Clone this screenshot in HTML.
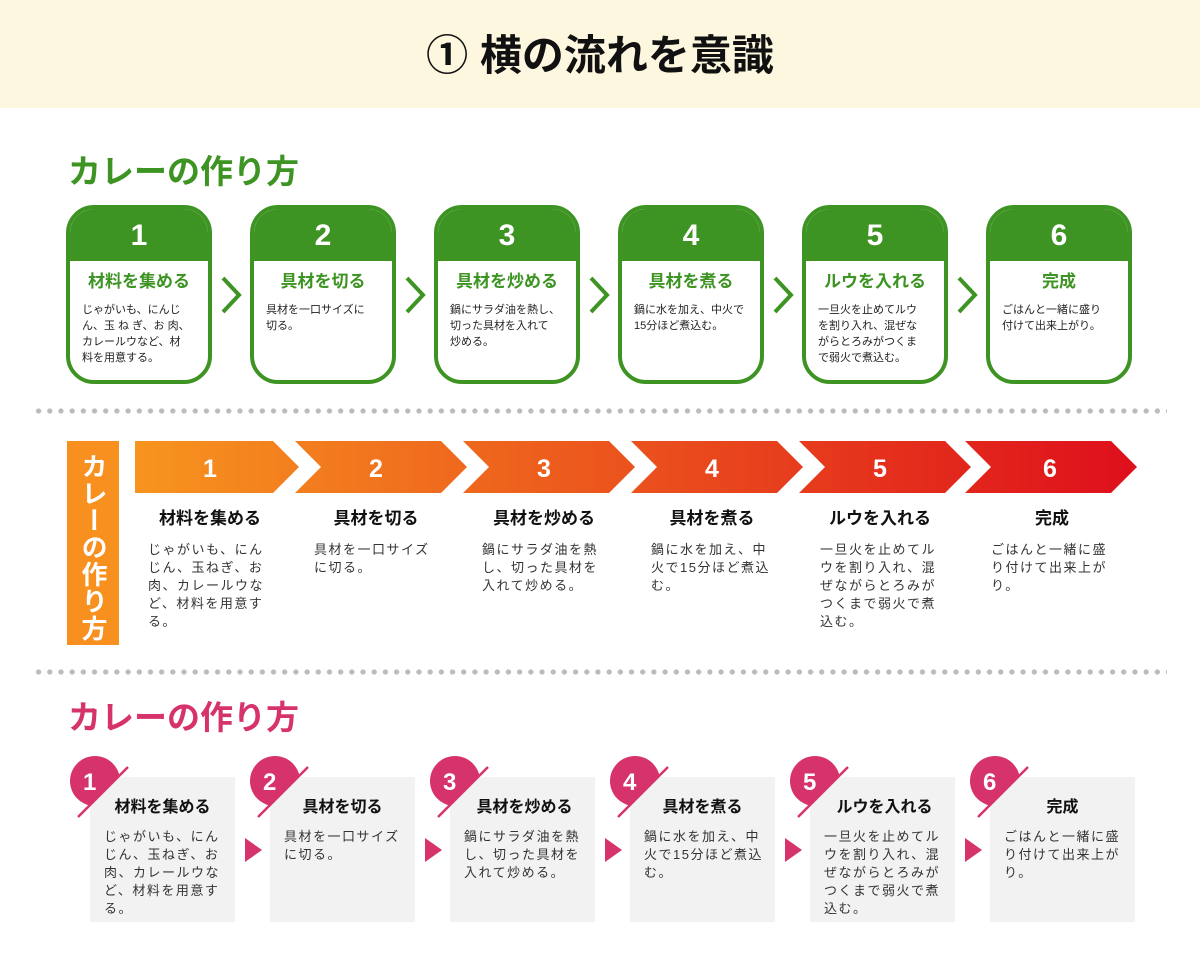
<!DOCTYPE html>
<html><head><meta charset="utf-8"><style>
*{margin:0;padding:0;box-sizing:border-box}
body{width:1200px;height:972px;background:#fff;position:relative;overflow:hidden;font-family:"Liberation Sans","Noto Sans CJK JP",sans-serif;color:#222}
.a{position:absolute}
.hdr{left:0;top:0;width:1200px;height:108px;background:#fdf7df}
.ttl{left:0;width:1200px;top:28px;text-align:center;font-size:42px;font-weight:bold;color:#111;line-height:56px}
.st{font-size:33px;font-weight:bold;line-height:40px}
.card{width:146px;height:179px;border:4px solid #3d9423;border-radius:28px;overflow:hidden;background:#fff}
.card .hd{height:52px;background:#3d9423;color:#fff;font-size:30px;font-weight:bold;text-align:center;line-height:54px}
.card .t{color:#3d9423;font-size:17px;font-weight:bold;text-align:center;margin-top:9px;line-height:24px}
.card .d{font-size:11px;line-height:16px;padding:0 10px 0 12px;margin-top:8px;letter-spacing:0;white-space:nowrap}
.dots{left:33px;width:1134px;height:6px;background:radial-gradient(circle,#bbb 2.4px,transparent 2.8px) 0 0/11.2px 6px repeat-x}
.t2{font-size:17px;font-weight:bold;text-align:center;width:160px;line-height:24px;color:#111}
.d2{font-size:13px;line-height:18px;letter-spacing:1.5px;color:#333;white-space:nowrap}
.box{width:145px;height:145px;background:#f2f2f2}
.t3{font-size:16px;font-weight:bold;text-align:center;width:145px;line-height:22px;color:#111}
.tri{width:0;height:0;border-left:17px solid #d6336c;border-top:12px solid transparent;border-bottom:12px solid transparent}
</style></head><body>
<div class="a hdr"></div>
<div class="a ttl">① 横の流れを意識</div>

<div class="a st" style="left:68px;top:152px;color:#3d9423">カレーの作り方</div>

<div class="a card" style="left:66px;top:205px"><div class="hd">1</div><div class="t">材料を集める</div><div class="d">じゃがいも、にんじ<br>ん、玉 ね ぎ、お 肉、<br>カレールウなど、材<br>料を用意する。</div></div>
<div class="a card" style="left:250px;top:205px"><div class="hd">2</div><div class="t">具材を切る</div><div class="d">具材を一口サイズに<br>切る。</div></div>
<div class="a card" style="left:434px;top:205px"><div class="hd">3</div><div class="t">具材を炒める</div><div class="d">鍋にサラダ油を熱し、<br>切った具材を入れて<br>炒める。</div></div>
<div class="a card" style="left:618px;top:205px"><div class="hd">4</div><div class="t">具材を煮る</div><div class="d">鍋に水を加え、中火で<br>15分ほど煮込む。</div></div>
<div class="a card" style="left:802px;top:205px"><div class="hd">5</div><div class="t">ルウを入れる</div><div class="d">一旦火を止めてルウ<br>を割り入れ、混ぜな<br>がらとろみがつくま<br>で弱火で煮込む。</div></div>
<div class="a card" style="left:986px;top:205px"><div class="hd">6</div><div class="t">完成</div><div class="d">ごはんと一緒に盛り<br>付けて出来上がり。</div></div>
<svg class="a" style="left:0;top:0" width="1200" height="400">
<g fill="none" stroke="#3d9423" stroke-width="4">
<polyline points="223,278 239,295 223,312"/><polyline points="407,278 423,295 407,312"/><polyline points="591,278 607,295 591,312"/><polyline points="775,278 791,295 775,312"/><polyline points="959,278 975,295 959,312"/>
</g></svg>

<div class="a dots" style="top:408px"></div>

<div class="a" style="left:67px;top:441px;width:52px;height:204px;background:#f7901e;color:#fff;font-size:26px;font-weight:bold;writing-mode:vertical-rl;text-align:center;line-height:52px;padding-top:8px;letter-spacing:1px">カレーの作り方</div>
<svg class="a" style="left:0;top:0" width="1200" height="972">
<defs><linearGradient id="g" gradientUnits="userSpaceOnUse" x1="135" y1="0" x2="1137" y2="0"><stop offset="0" stop-color="#f7941e"/><stop offset="1" stop-color="#de0f1c"/></linearGradient></defs>
<g fill="url(#g)">
<polygon points="135,441 273,441 299,467 273,493 135,493"/>
<polygon points="295,441 441,441 467,467 441,493 295,493 321,467"/>
<polygon points="463,441 609,441 635,467 609,493 463,493 489,467"/>
<polygon points="631,441 777,441 803,467 777,493 631,493 657,467"/>
<polygon points="799,441 945,441 971,467 945,493 799,493 825,467"/>
<polygon points="965,441 1111,441 1137,467 1111,493 965,493 991,467"/>
</g>
<g fill="#fff" font-size="25" font-weight="bold" text-anchor="middle" font-family="Liberation Sans,sans-serif">
<text x="210" y="477">1</text><text x="376" y="477">2</text><text x="544" y="477">3</text><text x="712" y="477">4</text><text x="880" y="477">5</text><text x="1050" y="477">6</text>
</g>
</svg>
<div class="a t2" style="left:130px;top:507px">材料を集める</div>
<div class="a t2" style="left:296px;top:507px">具材を切る</div>
<div class="a t2" style="left:464px;top:507px">具材を炒める</div>
<div class="a t2" style="left:632px;top:507px">具材を煮る</div>
<div class="a t2" style="left:800px;top:507px">ルウを入れる</div>
<div class="a t2" style="left:972px;top:507px">完成</div>
<div class="a d2" style="left:148px;top:541px">じゃがいも、にん<br>じん、玉ねぎ、お<br>肉、カレールウな<br>ど、材料を用意す<br>る。</div>
<div class="a d2" style="left:314px;top:541px">具材を一口サイズ<br>に切る。</div>
<div class="a d2" style="left:482px;top:541px">鍋にサラダ油を熱<br>し、切った具材を<br>入れて炒める。</div>
<div class="a d2" style="left:651px;top:541px">鍋に水を加え、中<br>火で15分ほど煮込<br>む。</div>
<div class="a d2" style="left:820px;top:541px">一旦火を止めてル<br>ウを割り入れ、混<br>ぜながらとろみが<br>つくまで弱火で煮<br>込む。</div>
<div class="a d2" style="left:991px;top:541px">ごはんと一緒に盛<br>り付けて出来上が<br>り。</div>

<div class="a dots" style="top:669px"></div>

<div class="a st" style="left:68px;top:698px;color:#d6336c">カレーの作り方</div>

<div class="a box" style="left:90px;top:777px"></div>
<div class="a box" style="left:270px;top:777px"></div>
<div class="a box" style="left:450px;top:777px"></div>
<div class="a box" style="left:630px;top:777px"></div>
<div class="a box" style="left:810px;top:777px"></div>
<div class="a box" style="left:990px;top:777px"></div>
<svg class="a" style="left:0;top:0" width="1200" height="972">
<defs><clipPath id="k"><polygon points="-60,-60 79,-60 -60,79"/></clipPath></defs>
<g fill="#d6336c">
<g transform="translate(95,781)"><circle r="25" clip-path="url(#k)"/></g>
<g transform="translate(275,781)"><circle r="25" clip-path="url(#k)"/></g>
<g transform="translate(455,781)"><circle r="25" clip-path="url(#k)"/></g>
<g transform="translate(635,781)"><circle r="25" clip-path="url(#k)"/></g>
<g transform="translate(815,781)"><circle r="25" clip-path="url(#k)"/></g>
<g transform="translate(995,781)"><circle r="25" clip-path="url(#k)"/></g>
</g>
<g stroke="#d6336c" stroke-width="2.5">
<line x1="78" y1="817" x2="128" y2="767"/><line x1="258" y1="817" x2="308" y2="767"/><line x1="438" y1="817" x2="488" y2="767"/><line x1="618" y1="817" x2="668" y2="767"/><line x1="798" y1="817" x2="848" y2="767"/><line x1="978" y1="817" x2="1028" y2="767"/>
</g>
<g fill="#fff" font-size="24" font-weight="bold" font-family="Liberation Sans,sans-serif">
<text x="83" y="790">1</text><text x="263" y="790">2</text><text x="443" y="790">3</text><text x="623" y="790">4</text><text x="803" y="790">5</text><text x="983" y="790">6</text>
</g></svg>
<div class="a t3" style="left:90px;top:797px">材料を集める</div>
<div class="a t3" style="left:270px;top:797px">具材を切る</div>
<div class="a t3" style="left:452px;top:797px">具材を炒める</div>
<div class="a t3" style="left:630px;top:797px">具材を煮る</div>
<div class="a t3" style="left:812px;top:797px">ルウを入れる</div>
<div class="a t3" style="left:990px;top:797px">完成</div>
<div class="a d2" style="left:104px;top:828px">じゃがいも、にん<br>じん、玉ねぎ、お<br>肉、カレールウな<br>ど、材料を用意す<br>る。</div>
<div class="a d2" style="left:284px;top:828px">具材を一口サイズ<br>に切る。</div>
<div class="a d2" style="left:464px;top:828px">鍋にサラダ油を熱<br>し、切った具材を<br>入れて炒める。</div>
<div class="a d2" style="left:644px;top:828px">鍋に水を加え、中<br>火で15分ほど煮込<br>む。</div>
<div class="a d2" style="left:824px;top:828px">一旦火を止めてル<br>ウを割り入れ、混<br>ぜながらとろみが<br>つくまで弱火で煮<br>込む。</div>
<div class="a d2" style="left:1004px;top:828px">ごはんと一緒に盛<br>り付けて出来上が<br>り。</div>
<div class="a tri" style="left:245px;top:838px"></div>
<div class="a tri" style="left:425px;top:838px"></div>
<div class="a tri" style="left:605px;top:838px"></div>
<div class="a tri" style="left:785px;top:838px"></div>
<div class="a tri" style="left:965px;top:838px"></div>
</body></html>
